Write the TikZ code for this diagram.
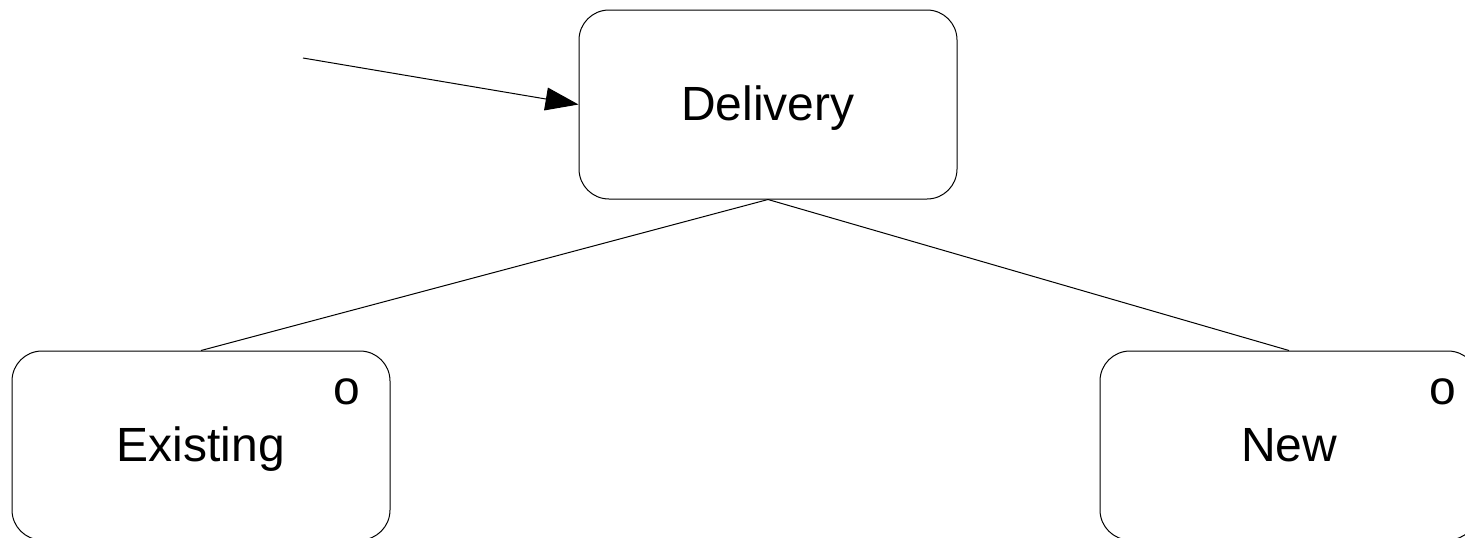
\documentclass[tikz,border=0pt]{standalone}
\usepackage{fontspec}
\setmainfont{Liberation Sans}
\usetikzlibrary{arrows.meta}
\tikzstyle{roundrect}=[rectangle, rounded corners=15pt, minimum width=189pt, minimum height=94.5pt, text centered, text height=16pt, text depth=0pt, draw=black, line width=0.5pt, font=\fontsize{24}{28}\selectfont]
\tikzstyle{arrow} = [-{Triangle[length=16.5pt,width=11.5pt]}, line width=0.5pt]
\tikzset{
	cornerletter/.style={
		inner sep=0pt,
		font=\fontsize{24}{28}\selectfont
	},
	link/.style={
		line width=0.5pt
	}
}

\begin{document}
\begin{tikzpicture}[x=0.5pt, y=-0.5pt]
	\useasboundingbox (0,0) rectangle (1465,537);
	
	\node(Delivery)[roundrect] at (768,104.5) {Delivery};
	
	\node(Existing)[roundrect] at (201,445.5) {Existing};
	\node(New)[roundrect] at (1289,445.5) {New};
	
	\node(ExistingO)[cornerletter] at (347,392) {o};
	\node(NewO)[cornerletter] at (1443,392) {o};
	
	\coordinate (Start) at (303,58);
	
	\draw [arrow] (Start) -- (Delivery.west);
	\draw [link] (Delivery.south) -- (Existing.north);
	\draw [link] (Delivery.south) -- (New.north);
\end{tikzpicture}
\end{document}
